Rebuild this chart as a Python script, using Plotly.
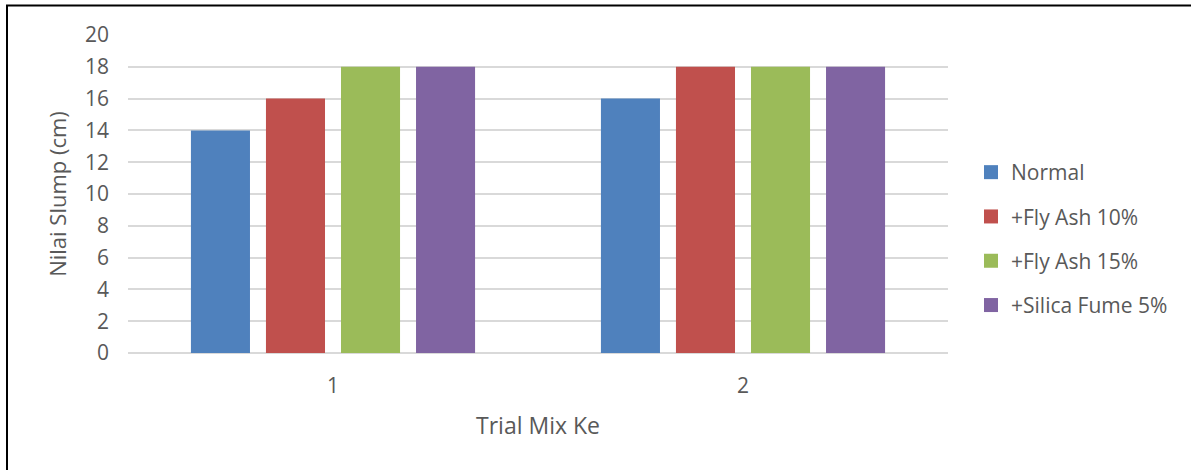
import plotly.graph_objects as go

# Slump test results per trial mix
trial_mix = ["1", "2"]
normal = [14, 16]
fly_ash_10 = [16, 18]
fly_ash_15 = [18, 18]
silica_fume_5 = [18, 18]

series = [
    ("Normal", normal, "#4F81BD"),
    ("+Fly Ash 10%", fly_ash_10, "#C0504D"),
    ("+Fly Ash 15%", fly_ash_15, "#9BBB59"),
    ("+Silica Fume 5%", silica_fume_5, "#8064A2"),
]

W, H = 1191, 470
L, R, T, B = 128, 948, 35, 353  # plot area in pixels
pw, ph = R - L, B - T

def px_x(x):
    return (x - L) / pw

def px_y(y):
    return (B - y) / ph

text_color = "#595959"
font_family = "Open Sans, Liberation Sans, Arial, sans-serif"

fig = go.Figure()
for i, (name, vals, color) in enumerate(series):
    fig.add_trace(go.Bar(
        x=trial_mix, y=vals, name=name,
        marker=dict(color=color, line=dict(width=0)),
        legendgroup=f"g{i}", showlegend=False,
    ))
    # square legend key for the series
    fig.add_trace(go.Scatter(
        x=[None], y=[None], mode="markers", name=name,
        marker=dict(symbol="square", size=14, color=color, line=dict(width=0)),
        legendgroup=f"g{i}", showlegend=True, hoverinfo="skip",
    ))

fig.update_layout(
    width=W, height=H,
    margin=dict(l=L, r=W - R, t=T, b=H - B, autoexpand=False),
    paper_bgcolor="white", plot_bgcolor="white",
    barmode="group", bargap=0.268, bargroupgap=0.213,
    font=dict(family=font_family, color=text_color, size=20),
    showlegend=True,
    legend=dict(
        x=px_x(971), y=px_y(239), xanchor="left", yanchor="middle",
        font=dict(size=21, color=text_color),
        tracegroupgap=14, itemwidth=30,
        bgcolor="rgba(0,0,0,0)",
    ),
)

fig.update_xaxes(
    type="category", showgrid=False, showline=False, zeroline=False,
    ticks="", ticklabelstandoff=18,
    tickfont=dict(size=21, color=text_color),
    title=dict(text="Trial Mix Ke", font=dict(size=23, color=text_color), standoff=19),
)
fig.update_yaxes(
    range=[0, 20], dtick=2, showgrid=True, gridcolor="#D9D9D9", gridwidth=1.5,
    zeroline=True, zerolinecolor="#D9D9D9", zerolinewidth=1.5,
    showline=False, ticks="", ticklabelstandoff=18,
    tickfont=dict(size=21, color=text_color),
    title=dict(text="Nilai Slump (cm)", font=dict(size=22, color=text_color), standoff=12),
)

# outer frame
fig.add_shape(
    type="rect", xref="paper", yref="paper",
    x0=px_x(7), x1=px_x(W + 10), y0=px_y(H + 10), y1=px_y(5.5),
    line=dict(color="black", width=2), fillcolor="rgba(0,0,0,0)", layer="above",
)

fig.write_html("out.html")
